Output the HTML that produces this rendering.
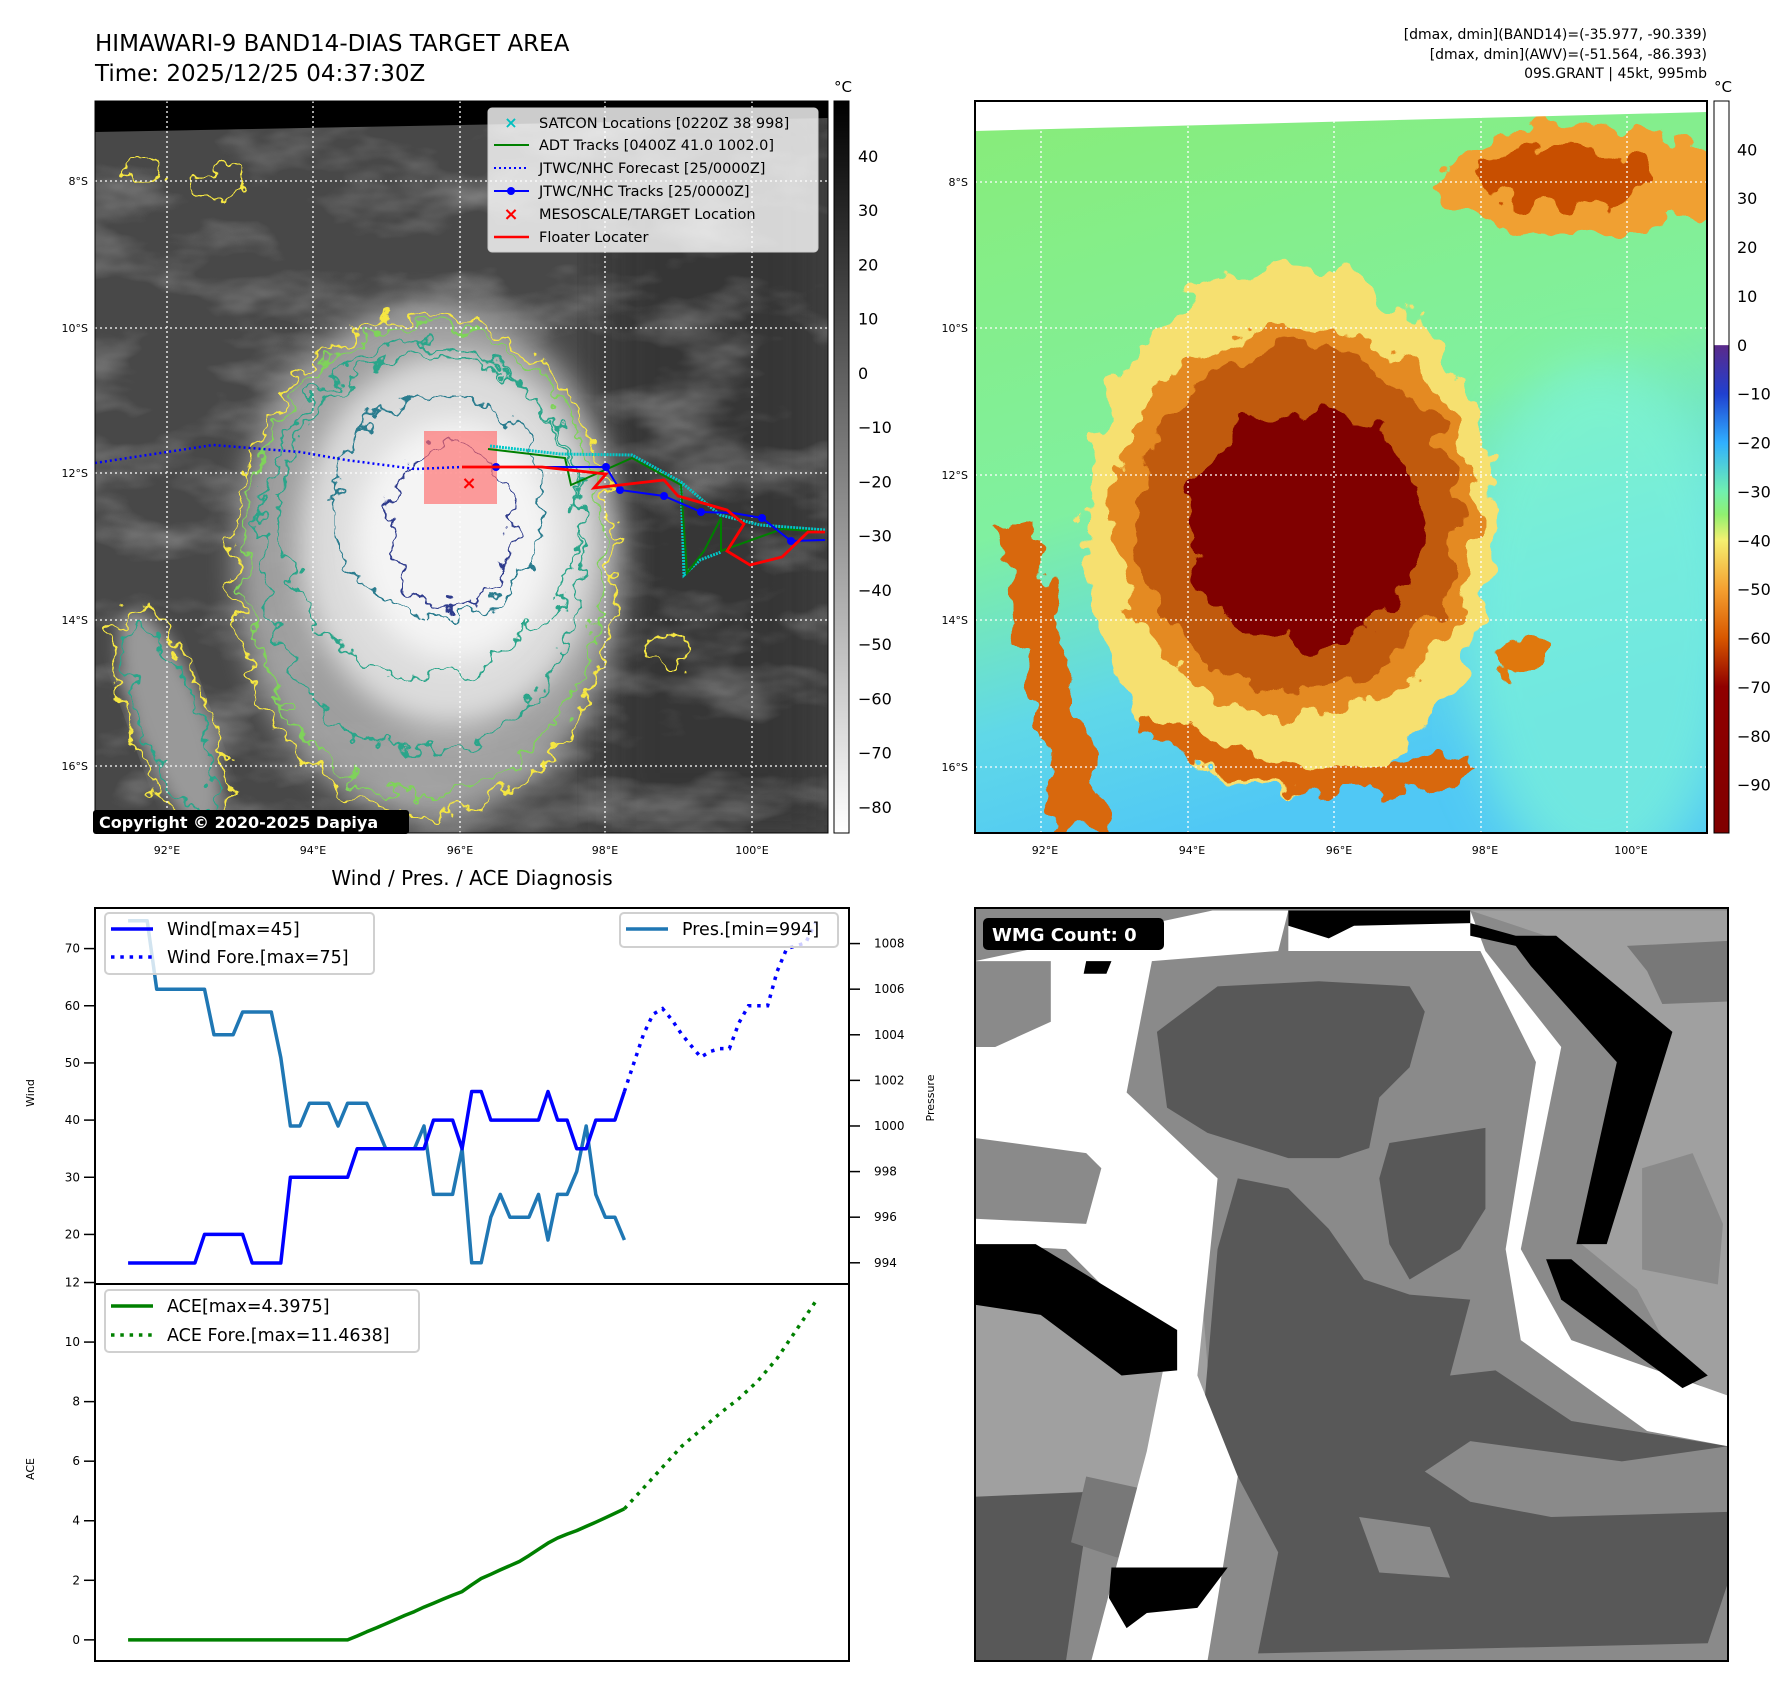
<!DOCTYPE html>
<html><head><meta charset="utf-8"><title>HIMAWARI-9 diagnosis</title>
<style>
html,body{margin:0;padding:0;background:#fff;}
svg{display:block;font-family:"DejaVu Sans","Liberation Sans",sans-serif;}
</style></head>
<body>
<svg id="fig" width="1788" height="1690" viewBox="0 0 1788 1690" xmlns="http://www.w3.org/2000/svg">
<defs>
  <clipPath id="c1"><rect x="95" y="101" width="733" height="732"/></clipPath>
  <clipPath id="c2"><rect x="975" y="101" width="732" height="732"/></clipPath>
  <clipPath id="c3"><rect x="975" y="908" width="753" height="753"/></clipPath>
  <filter id="clouds" x="0" y="0" width="100%" height="100%">
    <feTurbulence type="fractalNoise" baseFrequency="0.008 0.018" numOctaves="4" seed="7"/>
    <feColorMatrix type="matrix" values="0 0 0 0 1  0 0 0 0 1  0 0 0 0 1  1.6 0 0 0 -0.75"/>
  </filter>
  <filter id="wig" x="-20%" y="-20%" width="140%" height="140%">
    <feTurbulence type="fractalNoise" baseFrequency="0.045" numOctaves="3" seed="4" result="n"/>
    <feDisplacementMap in="SourceGraphic" in2="n" scale="40" xChannelSelector="R" yChannelSelector="G"/>
  </filter>
  <filter id="wig2" x="-20%" y="-20%" width="140%" height="140%">
    <feTurbulence type="fractalNoise" baseFrequency="0.03" numOctaves="3" seed="9" result="n"/>
    <feDisplacementMap in="SourceGraphic" in2="n" scale="45" xChannelSelector="R" yChannelSelector="G"/>
  </filter>
  <filter id="blur30"><feGaussianBlur stdDeviation="25"/></filter>
  <filter id="blur15"><feGaussianBlur stdDeviation="14"/></filter>
  <filter id="blur10"><feGaussianBlur stdDeviation="8"/></filter>
  <linearGradient id="grey" x1="0" y1="0" x2="0" y2="1"><stop offset="0" stop-color="#000"/><stop offset="1" stop-color="#fff"/></linearGradient>
  <linearGradient id="jet" x1="0" y1="0" x2="0" y2="1">
    <stop offset="0" stop-color="#fff"/><stop offset="0.333" stop-color="#fff"/>
    <stop offset="0.334" stop-color="#5a2a8a"/><stop offset="0.40" stop-color="#2040d0"/>
    <stop offset="0.467" stop-color="#30b0ff"/><stop offset="0.533" stop-color="#70f0b0"/>
    <stop offset="0.565" stop-color="#90f070"/><stop offset="0.60" stop-color="#f5f070"/>
    <stop offset="0.667" stop-color="#f5a030"/><stop offset="0.733" stop-color="#d85800"/>
    <stop offset="0.80" stop-color="#900000"/><stop offset="1" stop-color="#800000"/>
  </linearGradient>
  <linearGradient id="bg2" x1="0" y1="0" x2="0.3" y2="1">
    <stop offset="0" stop-color="#88ec78"/><stop offset="0.55" stop-color="#80f0a0"/>
    <stop offset="0.8" stop-color="#60d8e8"/><stop offset="1" stop-color="#50c8f5"/>
  </linearGradient>
</defs>

<!-- Titles -->
<text x="95" y="51" font-size="23">HIMAWARI-9 BAND14-DIAS TARGET AREA</text>
<text x="95" y="81" font-size="23">Time: 2025/12/25 04:37:30Z</text>
<g font-size="14" text-anchor="end">
  <text x="1707" y="39">[dmax, dmin](BAND14)=(-35.977, -90.339)</text>
  <text x="1707" y="59">[dmax, dmin](AWV)=(-51.564, -86.393)</text>
  <text x="1707" y="78">09S.GRANT | 45kt, 995mb</text>
</g>

<!-- MAP 1 -->
<g clip-path="url(#c1)">
  <rect x="95" y="101" width="733" height="732" fill="#484848"/>
  <rect x="600" y="101" width="228" height="732" fill="#333" filter="url(#blur30)" opacity="0.8"/>
  <rect x="95" y="101" width="733" height="732" filter="url(#clouds)" opacity="0.5"/>
  <ellipse cx="430" cy="560" rx="195" ry="260" fill="#a8a8a8" filter="url(#blur15)" opacity="0.9"/>
  <ellipse cx="450" cy="540" rx="150" ry="185" fill="#dcdcdc" filter="url(#blur15)"/>
  <ellipse cx="455" cy="540" rx="100" ry="120" fill="#f4f4f4" filter="url(#blur15)"/>
  <ellipse cx="170" cy="720" rx="35" ry="115" fill="#999" filter="url(#blur10)" transform="rotate(-20 170 720)"/>
  <g filter="url(#wig)" fill="none" stroke-width="2.2">
    <ellipse cx="425" cy="565" rx="192" ry="250" stroke="#f5e642"/>
    <ellipse cx="425" cy="560" rx="180" ry="236" stroke="#7fd35a"/>
    <ellipse cx="422" cy="548" rx="160" ry="205" stroke="#2aa58a"/>
    <ellipse cx="430" cy="515" rx="150" ry="160" stroke="#2aa58a"/>
    <ellipse cx="440" cy="505" rx="105" ry="112" stroke="#2b7c8e"/>
    <ellipse cx="452" cy="525" rx="62" ry="82" stroke="#2e3a8c"/>
    <ellipse cx="170" cy="720" rx="40" ry="120" stroke="#f5e642" transform="rotate(-20 170 720)"/>
    <ellipse cx="170" cy="720" rx="28" ry="100" stroke="#2aa58a" transform="rotate(-20 170 720)"/>
    <ellipse cx="668" cy="650" rx="22" ry="18" stroke="#f5e642"/>
    <ellipse cx="220" cy="185" rx="22" ry="14" stroke="#f5e642"/>
    <ellipse cx="145" cy="170" rx="20" ry="10" stroke="#f5e642"/>
  </g>
  <polygon points="95,101 828,101 828,118 95,132" fill="#000"/>
  <g stroke="#fff" stroke-width="1.3" stroke-dasharray="2,3">
    <line x1="167" y1="101" x2="167" y2="833"/><line x1="313" y1="101" x2="313" y2="833"/>
    <line x1="460" y1="101" x2="460" y2="833"/><line x1="605" y1="101" x2="605" y2="833"/>
    <line x1="752" y1="101" x2="752" y2="833"/>
    <line x1="95" y1="181" x2="828" y2="181"/><line x1="95" y1="328" x2="828" y2="328"/>
    <line x1="95" y1="473" x2="828" y2="473"/><line x1="95" y1="620" x2="828" y2="620"/>
    <line x1="95" y1="766" x2="828" y2="766"/>
  </g>
  <rect x="424" y="431" width="73" height="73" fill="#ff6a6a" opacity="0.65"/>
  <polyline points="95,463 213,445 300,452 346,460 415,469 462,467" fill="none" stroke="#0000ff" stroke-width="2.5" stroke-dasharray="2,3"/>
  <polyline points="490,446 560,454 632,455 681,482 720,515 760,525 825,530" fill="none" stroke="#00c8c8" stroke-width="3" stroke-dasharray="2,1"/>
  <polyline points="681,482 684,575 700,560 721,552" fill="none" stroke="#00c8c8" stroke-width="3" stroke-dasharray="2,1"/>
  <polyline points="488,449 565,458 571,485 632,458 681,485 687,573 704,551 721,518 721,551 782,529 825,532" fill="none" stroke="#008000" stroke-width="2"/>
  <polyline points="462,467 496,467 606,467 620,490 664,496 701,512 733,513 762,518 791,541 825,540" fill="none" stroke="#0000ff" stroke-width="2"/>
  <g fill="#0000ff"><circle cx="496" cy="467" r="4"/><circle cx="606" cy="467" r="4"/><circle cx="620" cy="490" r="4"/><circle cx="664" cy="496" r="4"/><circle cx="701" cy="512" r="4"/><circle cx="762" cy="518" r="4"/><circle cx="791" cy="541" r="4"/></g>
  <polyline points="462,467 542,467 606,474 594,488 664,480 678,496 727,510 744,524 727,551 750,565 782,557 808,532 825,532" fill="none" stroke="#ff0000" stroke-width="2.8"/>
  <text x="469" y="489" font-size="18" fill="#ff0000" text-anchor="middle" font-weight="bold">×</text>
</g>
<rect x="95" y="101" width="733" height="732" fill="none" stroke="#000" stroke-width="1"/>
<g>
  <rect x="93" y="810" width="316" height="24" rx="3" fill="#000"/>
  <text x="99" y="828" font-size="16" font-weight="bold" fill="#fff">Copyright © 2020-2025 Dapiya</text>
</g>
<g>
  <rect x="488" y="108" width="330" height="144" rx="4" fill="#fff" fill-opacity="0.8" stroke="#ccc"/>
  <g font-size="14.5">
    <text x="511" y="128" fill="#00c0c0" text-anchor="middle" font-weight="bold" font-size="16">×</text>
    <text x="539" y="128">SATCON Locations [0220Z 38 998]</text>
    <line x1="494" y1="145" x2="529" y2="145" stroke="#008000" stroke-width="2"/>
    <text x="539" y="150">ADT Tracks [0400Z 41.0 1002.0]</text>
    <line x1="494" y1="168" x2="529" y2="168" stroke="#0000ff" stroke-width="2" stroke-dasharray="2,3"/>
    <text x="539" y="173">JTWC/NHC Forecast [25/0000Z]</text>
    <line x1="494" y1="191" x2="529" y2="191" stroke="#0000ff" stroke-width="2"/><circle cx="511" cy="191" r="4" fill="#0000ff"/>
    <text x="539" y="196">JTWC/NHC Tracks [25/0000Z]</text>
    <text x="511" y="220" fill="#ff0000" text-anchor="middle" font-weight="bold" font-size="18">×</text>
    <text x="539" y="219">MESOSCALE/TARGET Location</text>
    <line x1="494" y1="237" x2="529" y2="237" stroke="#ff0000" stroke-width="2.5"/>
    <text x="539" y="242">Floater Locater</text>
  </g>
</g>
<g font-size="11" text-anchor="end">
  <text x="88" y="185">8°S</text><text x="88" y="332">10°S</text><text x="88" y="477">12°S</text><text x="88" y="624">14°S</text><text x="88" y="770">16°S</text>
</g>
<g font-size="11" text-anchor="middle">
  <text x="167" y="854">92°E</text><text x="313" y="854">94°E</text><text x="460" y="854">96°E</text><text x="605" y="854">98°E</text><text x="752" y="854">100°E</text>
</g>
<g>
  <rect x="834" y="101" width="15" height="732" fill="url(#grey)" stroke="#000" stroke-width="1"/>
  <text x="843" y="92" font-size="15" text-anchor="middle">°C</text>
  <g font-size="16" id="cb1labels"></g>
</g>

<!-- MAP 2 -->
<g clip-path="url(#c2)">
  <rect x="975" y="101" width="732" height="732" fill="url(#bg2)"/>
  <ellipse cx="1600" cy="620" rx="140" ry="260" fill="#7ff5d8" filter="url(#blur30)" opacity="0.7"/>
  <g filter="url(#wig2)">
    <ellipse cx="1580" cy="180" rx="150" ry="55" fill="#f0a030"/>
    <ellipse cx="1560" cy="175" rx="90" ry="30" fill="#c85000"/>
    <polygon points="995,520 1030,520 1110,830 1060,833" fill="#d86810"/>
    <ellipse cx="1290" cy="530" rx="205" ry="265" fill="#f6e070"/>
    <ellipse cx="1295" cy="520" rx="182" ry="195" fill="#e48a20"/>
    <ellipse cx="1298" cy="520" rx="160" ry="175" fill="#c05a10"/>
    <ellipse cx="1305" cy="527" rx="120" ry="118" fill="#800000"/>
    <path d="M1150,720 Q1300,820 1470,760" fill="none" stroke="#d86810" stroke-width="30"/>
    <ellipse cx="1520" cy="655" rx="25" ry="20" fill="#e07810"/>
  </g>
  <polygon points="975,101 1707,101 1707,112 975,131" fill="#fff"/>
  <g stroke="#fff" stroke-width="1.3" stroke-dasharray="2,3">
    <line x1="1041" y1="101" x2="1041" y2="833"/><line x1="1188" y1="101" x2="1188" y2="833"/>
    <line x1="1334" y1="101" x2="1334" y2="833"/><line x1="1481" y1="101" x2="1481" y2="833"/>
    <line x1="1627" y1="101" x2="1627" y2="833"/>
    <line x1="975" y1="182" x2="1707" y2="182"/><line x1="975" y1="328" x2="1707" y2="328"/>
    <line x1="975" y1="475" x2="1707" y2="475"/><line x1="975" y1="620" x2="1707" y2="620"/>
    <line x1="975" y1="767" x2="1707" y2="767"/>
  </g>
</g>
<rect x="975" y="101" width="732" height="732" fill="none" stroke="#000" stroke-width="2"/>
<g font-size="11" text-anchor="end">
  <text x="968" y="186">8°S</text><text x="968" y="332">10°S</text><text x="968" y="479">12°S</text><text x="968" y="624">14°S</text><text x="968" y="771">16°S</text>
</g>
<g font-size="11" text-anchor="middle">
  <text x="1045" y="854">92°E</text><text x="1192" y="854">94°E</text><text x="1339" y="854">96°E</text><text x="1485" y="854">98°E</text><text x="1631" y="854">100°E</text>
</g>
<g>
  <rect x="1714" y="101" width="15" height="732" fill="url(#jet)" stroke="#000" stroke-width="1"/>
  <text x="1723" y="92" font-size="15" text-anchor="middle">°C</text>
  <g font-size="16" id="cb2labels"></g>
</g>

<!-- WMG panel -->
<g clip-path="url(#c3)">
  <svg x="975" y="908" width="753" height="753" viewBox="20 25 1490 1490" preserveAspectRatio="none">
    <rect x="0" y="0" width="1600" height="1600" fill="#8a8a8a"/>
    <polygon points="20,130 200,130 200,360 20,360" fill="#a0a0a0"/>
    <polygon points="1000,30 1510,30 1510,1000 1420,950 1330,780 1220,690 1300,330 1180,90" fill="#a0a0a0"/>
    <polygon points="1310,100 1510,90 1510,210 1380,215 1350,150" fill="#787878"/>
    <polygon points="1340,540 1440,510 1500,650 1490,770 1340,740" fill="#8a8a8a"/>
    <polygon points="20,800 470,800 500,1190 20,1190" fill="#a0a0a0"/>
    <polygon points="20,1190 250,1180 200,1515 20,1515" fill="#585858"/>
    <polygon points="240,1150 470,1200 450,1300 300,1310 210,1280" fill="#787878"/>
    <polygon points="380,270 500,180 700,170 880,180 910,230 880,340 820,400 800,500 740,520 640,520 480,470 400,420" fill="#585858"/>
    <polygon points="840,490 1030,460 1030,620 980,700 880,760 840,690 820,560" fill="#585858"/>
    <polygon points="540,560 640,580 720,660 790,760 880,790 1000,800 960,950 1050,940 1200,1040 1510,1090 1510,1360 1470,1480 580,1500 620,1300 540,1150 470,1050 500,700" fill="#585858"/>
    <polygon points="910,1140 1000,1080 1300,1120 1510,1090 1510,1220 1160,1230 1000,1200" fill="#8a8a8a"/>
    <polygon points="780,1230 920,1250 960,1350 820,1340" fill="#8a8a8a"/>
    <polygon points="20,130 490,30 640,30 620,110 370,130 320,390 500,560 460,950 540,1150 480,1515 250,1515 360,1100 400,900 200,700 20,690" fill="#fff"/>
    <polygon points="20,130 170,130 170,250 60,300 20,300" fill="#8a8a8a"/>
    <polygon points="20,480 240,510 270,540 240,650 20,640" fill="#8a8a8a"/>
    <polygon points="640,30 1000,30 1030,110 1180,300 1100,700 1200,880 1510,990 1510,1090 1350,1060 1100,880 1070,700 1130,330 1020,110 640,110" fill="#fff"/>
    <polygon points="640,30 1000,30 1000,55 770,60 720,85 640,60" fill="#000"/>
    <polygon points="1000,55 1090,80 1170,80 1400,270 1270,690 1210,690 1290,330 1120,140 1090,100 1000,80" fill="#000"/>
    <polygon points="1150,720 1200,720 1470,950 1420,975 1180,800" fill="#000"/>
    <polygon points="20,690 140,690 420,860 420,940 310,950 150,830 20,810" fill="#000"/>
    <polygon points="290,1330 520,1330 460,1410 360,1420 320,1450 285,1390" fill="#000"/>
    <polygon points="240,130 290,130 280,155 235,155" fill="#000"/>
  </svg>
</g>
<rect x="975" y="908" width="753" height="753" fill="none" stroke="#000" stroke-width="2"/>
<g>
  <rect x="983" y="918" width="181" height="32" rx="5" fill="#000"/>
  <text x="992" y="941" font-size="18" font-weight="bold" fill="#fff">WMG Count: 0</text>
</g>

<!-- Diagnosis panel -->
<text x="472" y="885" font-size="20" text-anchor="middle">Wind / Pres. / ACE Diagnosis</text>
<g id="chart"></g>
<rect x="95" y="908" width="754" height="376" fill="none" stroke="#000" stroke-width="2"/>
<rect x="95" y="1284" width="754" height="377" fill="none" stroke="#000" stroke-width="2"/>
<text transform="translate(34,1093) rotate(-90)" font-size="11" text-anchor="middle">Wind</text>
<text transform="translate(934,1098) rotate(-90)" font-size="11" text-anchor="middle">Pressure</text>
<text transform="translate(34,1469) rotate(-90)" font-size="11" text-anchor="middle">ACE</text>
<g>
  <rect x="105" y="913" width="269" height="61" rx="4" fill="#fff" fill-opacity="0.8" stroke="#d0d0d0" stroke-width="2"/>
  <line x1="111" y1="929" x2="153" y2="929" stroke="#0000ff" stroke-width="3.5"/>
  <text x="167" y="935" font-size="17.5">Wind[max=45]</text>
  <line x1="111" y1="957" x2="153" y2="957" stroke="#0000ff" stroke-width="3.5" stroke-dasharray="3.5,5.8"/>
  <text x="167" y="963" font-size="17.5">Wind Fore.[max=75]</text>
</g>
<g>
  <rect x="620" y="913" width="218" height="34" rx="4" fill="#fff" fill-opacity="0.8" stroke="#d0d0d0" stroke-width="2"/>
  <line x1="626" y1="929" x2="668" y2="929" stroke="#1f77b4" stroke-width="3.5"/>
  <text x="682" y="935" font-size="17.5">Pres.[min=994]</text>
</g>
<g>
  <rect x="105" y="1290" width="314" height="62" rx="4" fill="#fff" fill-opacity="0.8" stroke="#d0d0d0" stroke-width="2"/>
  <line x1="111" y1="1306" x2="153" y2="1306" stroke="#008000" stroke-width="3.5"/>
  <text x="167" y="1312" font-size="17.5">ACE[max=4.3975]</text>
  <line x1="111" y1="1335" x2="153" y2="1335" stroke="#008000" stroke-width="3.5" stroke-dasharray="3.5,5.8"/>
  <text x="167" y="1341" font-size="17.5">ACE Fore.[max=11.4638]</text>
</g>
</svg>

<script>
const windObs = [15,15,15,15,15,15,15,15,20,20,20,20,20,15,15,15,15,30,30,30,30,30,30,30,35,35,35,35,35,35,35,35,40,40,40,35,45,45,40,40,40,40,40,40,45,40,40,35,35,40,40,40,45];
const presObs = [1009,1009,1009,1006,1006,1006,1006,1006,1006,1004,1004,1004,1005,1005,1005,1005,1003,1000,1000,1001,1001,1001,1000,1001,1001,1001,1000,999,999,999,999,1000,997,997,997,999,994,994,996,997,996,996,996,997,995,997,997,998,1000,997,996,996,995];
const aceObs = [0,0,0,0,0,0,0,0,0,0,0,0,0,0,0,0,0,0,0,0,0,0,0,0,0.13,0.27,0.4,0.54,0.68,0.82,0.95,1.1,1.23,1.37,1.5,1.62,1.85,2.06,2.2,2.35,2.49,2.63,2.83,3.04,3.25,3.42,3.55,3.67,3.81,3.95,4.1,4.25,4.4];
const foreX = [52,53,54,55,56,57,58,59,60,61,62,63,64,65,66,67,68,69,70,71,72];
const windFore = [45,50,55,58.5,59.5,57.5,55,53,51,52,52.5,52.5,57,60,60,60,66,70,70.5,71,74.5];
const aceForeX = [52,54,56,58,60,62,64,66,68,70,72];
const aceFore = [4.4,5.1,5.8,6.5,7.05,7.6,8.1,8.7,9.45,10.4,11.35];
const windTicks = [20,30,40,50,60,70];
const presTicks = [994,996,998,1000,1002,1004,1006,1008];
const aceTicks = [0,2,4,6,8,10,12];
const cb1Ticks = [40,30,20,10,0,-10,-20,-30,-40,-50,-60,-70,-80];
const cb2Ticks = [40,30,20,10,0,-10,-20,-30,-40,-50,-60,-70,-80,-90];

const NS = 'http://www.w3.org/2000/svg';
function lin(d0,d1,r0,r1){return v=>r0+(v-d0)*(r1-r0)/(d1-d0);}
const xS = lin(0,52,128.1,624.4);
const yW = lin(11.33,77.1,1284,908);
const yP = lin(993.07,1009.56,1284,908);
const yA = lin(-0.71,11.95,1661,1284);
const yC1 = lin(50.1,-84.8,101,833);
const yC2 = lin(49.9,-99.9,101,833);
const chart = document.getElementById('chart');

function mk(tag, attrs, parent){
  const el = document.createElementNS(NS, tag);
  for (const k in attrs) el.setAttribute(k, attrs[k]);
  (parent||chart).appendChild(el);
  return el;
}
function path(xs, ys, xf, yf){
  return xs.map((x,i)=>(i?'L':'M')+xf(x).toFixed(1)+','+yf(ys[i]).toFixed(1)).join(' ');
}
const idx = windObs.map((_,i)=>i);

let p;
p = mk('path',{d:path(idx,presObs,xS,yP),fill:'none',stroke:'#1f77b4','stroke-width':3.5,'stroke-linejoin':'round'});


p = mk('path',{d:path(idx,windObs,xS,yW),fill:'none',stroke:'#0000ff','stroke-width':3.5,'stroke-linejoin':'round'});


p = mk('path',{d:path(foreX,windFore,xS,yW),fill:'none',stroke:'#0000ff','stroke-width':3.5,'stroke-dasharray':'3.5,5.8'});


p = mk('path',{d:path(idx,aceObs,xS,yA),fill:'none',stroke:'#008000','stroke-width':3.5,'stroke-linejoin':'round'});


p = mk('path',{d:path(aceForeX,aceFore,xS,yA),fill:'none',stroke:'#008000','stroke-width':3.5,'stroke-dasharray':'3.5,5.8'});



windTicks.forEach(v=>{
  const y = yW(v);
  const t = mk('g',{});
  
  
  mk('line',{x1:84,x2:95,y1:y,y2:y,stroke:'#000','stroke-width':1.5},t);
  const tx = mk('text',{x:80,y:y+4,'font-size':12,'text-anchor':'end'},t); tx.textContent = v;
});
presTicks.forEach(v=>{
  const y = yP(v);
  const t = mk('g',{});
  
  
  mk('line',{x1:849,x2:860,y1:y,y2:y,stroke:'#000','stroke-width':1.5},t);
  const tx = mk('text',{x:874,y:y+4,'font-size':12},t); tx.textContent = v;
});
aceTicks.forEach(v=>{
  const y = yA(v);
  const t = mk('g',{});
  
  
  mk('line',{x1:84,x2:95,y1:y,y2:y,stroke:'#000','stroke-width':1.5},t);
  const tx = mk('text',{x:80,y:y+4,'font-size':12,'text-anchor':'end'},t); tx.textContent = v;
});
const g1 = document.getElementById('cb1labels');
cb1Ticks.forEach(v=>{
  const y = yC1(v);
  const t = mk('text',{x:858,y:y+6},g1);
  
  
  t.textContent = String(v).replace('-','\u2212');
});
const g2 = document.getElementById('cb2labels');
cb2Ticks.forEach(v=>{
  const y = yC2(v);
  const t = mk('text',{x:1737,y:y+6},g2);
  
  
  t.textContent = String(v).replace('-','\u2212');
});
</script>
</body></html>
